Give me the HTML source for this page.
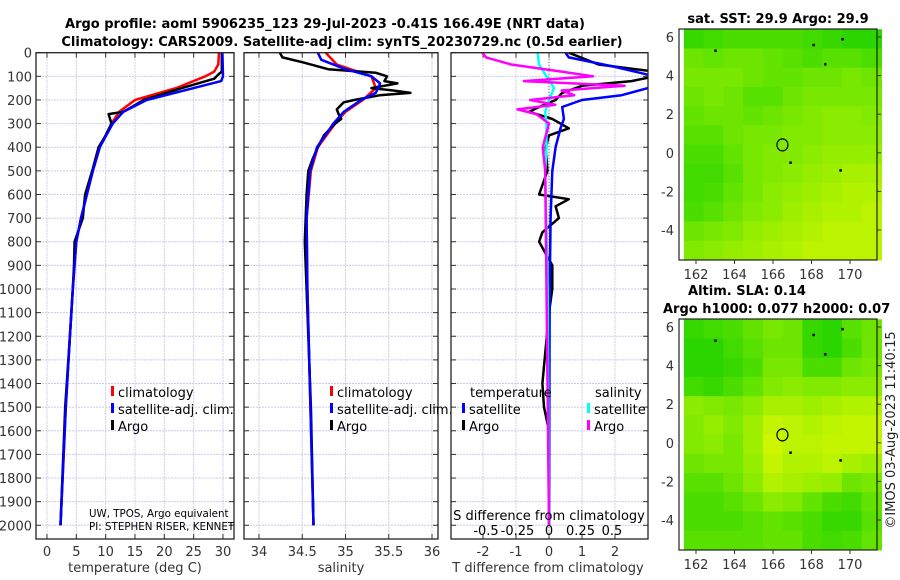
<!DOCTYPE html>
<html><head><meta charset="utf-8"><style>
body{margin:0;background:#fff}
svg{display:block;font-family:"DejaVu Sans","Liberation Sans",sans-serif}
.tk{font-size:13px;fill:#333}
.ti{font-size:13px;font-weight:bold;fill:#000}
.lg{font-size:13px;fill:#000}
</style></head><body>
<svg id="c" width="900" height="580" xmlns="http://www.w3.org/2000/svg"></svg>
<script>
// ---------- data ----------
const depthTicks=[0,100,200,300,400,500,600,700,800,900,1000,1100,1200,1300,1400,1500,1600,1700,1800,1900,2000];
const tempTicks=[0,5,10,15,20,25,30];
const salTicks=[34,34.5,35,35.5,36];
const tdTicks=[-2,-1,0,1,2];
const sdTicks=[-0.5,-0.25,0,0.25,0.5];
const tempClimD=[0,50,80,100,150,200,250,300,400,500,600,700,800,1000,1200,1500,2000];
const tempClim=[29.3,29.2,28.5,27,22,15,12.3,11,9,7.8,6.8,5.8,5,4.4,3.9,3.2,2.3];
const tempSatD=[0,100,120,150,200,250,300,400,500,600,700,800,1000,1200,1500,2000];
const tempSat=[29.9,30.0,29.7,25,17,13,11.2,9,7.8,6.8,5.8,5,4.4,3.9,3.2,2.3];
const tempArgoD=[0,80,90,110,150,200,250,260,300,350,400,500,600,700,800,900,1000,1200,1500,2000];
const tempArgo=[29.8,29.8,29.3,28.5,23,16.5,13,10.5,11,10,8.8,7.7,6.5,6.1,4.7,4.6,4.4,3.9,3.1,2.3];
const salClimD=[0,50,100,150,200,250,300,400,500,700,1000,2000];
const salClim=[34.77,34.9,35.3,35.35,35.2,35.0,34.88,34.68,34.6,34.55,34.56,34.63];
const salSatD=[0,30,70,100,130,170,200,250,300,400,500,700,1000,2000];
const salSat=[34.68,34.72,35.0,35.3,35.4,35.35,35.18,34.98,34.86,34.67,34.59,34.55,34.56,34.63];
const salArgoD=[0,20,40,70,85,100,120,130,150,160,170,180,200,210,240,260,280,300,350,400,450,500,600,800,1000,1500,2000];
const salArgo=[34.24,34.27,34.5,34.8,35.35,35.48,35.45,35.6,35.3,35.55,35.75,35.4,35.1,34.98,34.9,34.92,34.95,34.88,34.75,34.68,34.62,34.57,34.55,34.53,34.55,34.6,34.63];
const tdSatD=[0,20,60,100,150,180,200,230,280,320,400,500,700,1000,2000];
const tdSat=[0.5,0.6,2.0,3.2,3.0,2.2,1.0,0.4,0.45,0.35,0.2,0.1,0.05,0.02,0];
const tdArgoD=[0,50,80,100,120,140,170,200,230,250,280,320,350,400,500,600,620,650,700,760,800,850,900,1000,1100,1400,1500,1600,2000];
const tdArgo=[0.6,1.5,3.2,3.2,2.5,1.0,0.4,0.2,-0.3,-0.6,0.1,0.6,0,-0.1,-0.05,-0.3,0.6,0.2,0.3,-0.2,-0.3,-0.1,0.1,0.1,0,-0.2,-0.15,0,0];
const sdSatD=[0,50,100,150,200,250,300,400,500,1000,2000];
const sdSat=[-0.09,-0.08,-0.02,0.04,0.0,-0.03,-0.02,-0.02,-0.03,-0.01,0];
const sdArgoD=[0,20,50,80,100,120,140,160,180,200,220,240,260,300,400,500,1000,2000];
const sdArgo=[-0.53,-0.5,-0.3,0.1,0.35,-0.2,0.6,0.1,0.2,-0.15,0.05,-0.25,-0.1,0,-0.05,-0.03,-0.02,0];
const lonTicks=[162,164,166,168,170];
const latTicks=[6,4,2,0,-2,-4];
const sstGrid=[
[0.2,0.25,0.3,0.3,0.3,0.3,0.25,0.2,0.15,0.15],
[0.45,0.4,0.45,0.45,0.4,0.35,0.3,0.35,0.35,0.3],
[0.5,0.5,0.5,0.45,0.4,0.4,0.45,0.45,0.5,0.45],
[0.45,0.5,0.45,0.35,0.35,0.45,0.5,0.5,0.5,0.5],
[0.4,0.45,0.45,0.4,0.45,0.5,0.55,0.6,0.6,0.55],
[0.35,0.35,0.45,0.5,0.5,0.55,0.55,0.6,0.6,0.6],
[0.3,0.3,0.4,0.5,0.55,0.55,0.6,0.65,0.65,0.65],
[0.25,0.25,0.35,0.5,0.55,0.6,0.65,0.7,0.75,0.75],
[0.25,0.3,0.4,0.5,0.6,0.65,0.7,0.75,0.8,0.8],
[0.3,0.35,0.45,0.55,0.6,0.7,0.75,0.8,0.8,0.85],
[0.45,0.5,0.55,0.65,0.7,0.75,0.8,0.85,0.85,0.85],
[0.55,0.6,0.65,0.7,0.75,0.8,0.85,0.85,0.85,0.85]];
const slaGrid=[
[0.2,0.25,0.3,0.4,0.5,0.45,0.2,0.15,0.35,0.45],
[0.15,0.15,0.25,0.35,0.45,0.45,0.2,0.15,0.3,0.45],
[0.15,0.15,0.2,0.3,0.5,0.5,0.3,0.3,0.45,0.5],
[0.25,0.2,0.3,0.4,0.55,0.6,0.55,0.55,0.6,0.6],
[0.6,0.55,0.5,0.6,0.75,0.75,0.7,0.75,0.8,0.8],
[0.55,0.65,0.55,0.7,0.9,0.85,0.8,0.85,0.9,0.9],
[0.55,0.6,0.5,0.7,0.95,0.85,0.85,0.9,0.9,0.9],
[0.45,0.5,0.5,0.65,0.9,0.8,0.8,0.85,0.75,0.7],
[0.35,0.35,0.45,0.6,0.8,0.75,0.7,0.65,0.45,0.5],
[0.3,0.3,0.35,0.45,0.6,0.55,0.4,0.3,0.25,0.4],
[0.3,0.3,0.3,0.35,0.4,0.35,0.3,0.2,0.2,0.35],
[0.35,0.35,0.35,0.35,0.4,0.4,0.3,0.25,0.3,0.4]];
const floatLon=166.49, floatLat=0.41;

// ---------- helpers ----------
const NS="http://www.w3.org/2000/svg", svg=document.getElementById('c');
function el(t,a,p){const e=document.createElementNS(NS,t);for(const k in a)e.setAttribute(k,a[k]);(p||svg).appendChild(e);return e;}
function txt(x,y,s,cls,anchor,p){const e=el('text',{x:x,y:y,class:cls,'text-anchor':anchor||'start'},p);e.textContent=s;return e;}
const yTop=52.7, yPer=0.2363, yBot=539;
const yD=d=>yTop+d*yPer;
function lin(v0,p0,v1,p1){return v=>p0+(v-v0)*(p1-p0)/(v1-v0);}
const xT=lin(0,47,30,223), xS=lin(34,259,36,432), xTD=lin(0,549,1,582), xSD=lin(0,549,0.25,580.5);

function panel(name,x0,x1,xf,ticks,fmt,showDepth){
  const g=el('g',{});
  
  
  ticks.forEach(t=>{el('line',{x1:xf(t),x2:xf(t),y1:yTop,y2:yBot,stroke:'#c8cce8','stroke-width':1,'stroke-dasharray':'2,1'},g);});
  depthTicks.forEach(d=>{el('line',{x1:x0,x2:x1,y1:yD(d),y2:yD(d),stroke:'#c8cce8','stroke-width':1,'stroke-dasharray':'2,1'},g);
    el('line',{x1:x0,x2:x0+5,y1:yD(d),y2:yD(d),stroke:'#333'},g);el('line',{x1:x1-5,x2:x1,y1:yD(d),y2:yD(d),stroke:'#333'},g);
    if(showDepth){const t=txt(x0-4,yD(d)+5,String(d),'tk','end',g);}});
  ticks.forEach(t=>{el('line',{x1:xf(t),x2:xf(t),y1:yBot,y2:yBot-5,stroke:'#333'},g);el('line',{x1:xf(t),x2:xf(t),y1:yTop,y2:yTop+5,stroke:'#333'},g);
    const l=txt(xf(t),556,fmt(t),'tk','middle',g);});
  return g;
}
function frame(x0,x1){el('rect',{x:x0,y:yTop,width:x1-x0,height:yBot-yTop,fill:'none',stroke:'#222','stroke-width':1.3});}
function line(name,ds,vs,xf,col,w,clip){
  const pts=ds.map((d,i)=>xf(vs[i]).toFixed(1)+','+yD(d).toFixed(1)).join(' ');
  const p=el('polyline',{points:pts,fill:'none',stroke:col,'stroke-width':w,'stroke-linejoin':'round','clip-path':'url(#'+clip+')'});
  
  
}
const defs=el('defs',{});
[['cp1',36,234],['cp2',244,438],['cp3',451,648]].forEach(c=>{const cp=el('clipPath',{id:c[0]},defs);el('rect',{x:c[1],y:yTop,width:c[2]-c[1],height:yBot-yTop},cp);});

// titles
let t=txt(325,28,'Argo profile: aoml 5906235_123 29-Jul-2023 -0.41S 166.49E (NRT data)','ti','middle');

t=txt(342,46,'Climatology: CARS2009. Satellite-adj clim: synTS_20230729.nc (0.5d earlier)','ti','middle');


// panel 1
panel('temperature-panel',36,234,xT,tempTicks,String,true);
line('temp-climatology-line',tempClimD,tempClim,xT,'#f00',2.5,'cp1');
line('temp-argo-line',tempArgoD,tempArgo,xT,'#000',2.5,'cp1');
line('temp-satellite-line',tempSatD,tempSat,xT,'#00f',2.5,'cp1');
frame(36,234);
t=txt(135,572,'temperature (deg C)','tk','middle');
function legend(x,y,col,label,name){el('rect',{x:x,y:y-11,width:3,height:10,fill:col});const l=txt(x+7,y,label,'lg');}
legend(111,397,'#f00','climatology','legend-climatology');
legend(111,414,'#00f','satellite-adj. clim.','legend-satellite');
legend(111,431,'#000','Argo','legend-argo');
const cpn=el('g',{'clip-path':'url(#cp1)'});
t=txt(89,517,'UW, TPOS, Argo equivalent','lg',null,cpn);t.style.fontSize='10.3px';
t=txt(89,530,'PI: STEPHEN RISER, KENNETH','lg',null,cpn);t.style.fontSize='10.3px';

// panel 2
panel('salinity-panel',244,438,xS,salTicks,String,false);
line('sal-climatology-line',salClimD,salClim,xS,'#f00',2.5,'cp2');
line('sal-argo-line',salArgoD,salArgo,xS,'#000',2.5,'cp2');
line('sal-satellite-line',salSatD,salSat,xS,'#00f',2.5,'cp2');
frame(244,438);
t=txt(341,572,'salinity','tk','middle');
legend(330,397,'#f00','climatology','legend-climatology-2');
legend(330,414,'#00f','satellite-adj. clim.','legend-satellite-2');
legend(330,431,'#000','Argo','legend-argo-2');

// panel 3
panel('difference-panel',451,648,xTD,tdTicks,String,false);
el('line',{x1:549,x2:549,y1:yTop,y2:yBot,stroke:'#555','stroke-dasharray':'1,2'});
line('tdiff-argo-line',tdArgoD,tdArgo,xTD,'#000',2.5,'cp3');
line('tdiff-satellite-line',tdSatD,tdSat,xTD,'#00f',2.5,'cp3');
line('sdiff-satellite-line',sdSatD,sdSat,xSD,'#0ff',2.5,'cp3');
line('sdiff-argo-line',sdArgoD,sdArgo,xSD,'#f0f',2.5,'cp3');
frame(451,648);
t=txt(548,572,'T difference from climatology','tk','middle');
t=txt(549,520,'S difference from climatology','lg','middle');
sdTicks.forEach(v=>{const l=txt(xSD(v),535,String(v),'lg','middle');});
t=txt(470,397,'temperature','lg');
t=txt(595,397,'salinity','lg');
legend(462,414,'#00f','satellite','legend-t-satellite');
legend(462,431,'#000','Argo','legend-t-argo');
legend(587,414,'#0ff','satellite','legend-s-satellite');
legend(587,431,'#f0f','Argo','legend-s-argo');

// maps
function colr(v){const a=[10,205,0],b=[120,232,0],c=[215,248,0];let p,q,f;
  if(v<0.5){p=a;q=b;f=v/0.5;}else{p=b;q=c;f=(v-0.5)/0.5;}
  return 'rgb('+p.map((x,i)=>Math.round(x+(q[i]-x)*f)).join(',')+')';}
function map(name,top,grid){
  const x0=679,x1=877,y1=top+231;
  const lx=lin(162,696,170,850), ly=lin(6,top+8,-4,top+201);
  const g=el('g',{});
  const rows=grid.length, cols=grid[0].length;
  const lonMin=161.37,lonMax=171.63,latMax=6.4,latMin=-5.55;
  const dlon=(lonMax-lonMin)/cols, dlat=(latMax-latMin)/rows;
  grid.forEach((r,i)=>r.forEach((v,j)=>{
    const xa=lx(lonMin+j*dlon), xb=lx(lonMin+(j+1)*dlon), ya=ly(latMax-i*dlat), yb=ly(latMax-(i+1)*dlat);
    const c=el('rect',{x:xa,y:ya,width:xb-xa+0.6,height:yb-ya+0.6,fill:colr(v)},g);
    
    
  }));
  el('rect',{x:x0,y:top,width:x1-x0,height:y1-top,fill:'none',stroke:'#222','stroke-width':1.2});
  lonTicks.forEach(l=>{el('line',{x1:lx(l),x2:lx(l),y1:y1,y2:y1+4,stroke:'#333'});const k=txt(lx(l),y1+19,String(l),'tk','middle');});
  latTicks.forEach(l=>{el('line',{x1:x1,x2:x1+4,y1:ly(l),y2:ly(l),stroke:'#333'});const k=txt(674,ly(l)+5,String(l),'tk','end');});
  const m=el('ellipse',{cx:lx(floatLon),cy:ly(floatLat),rx:5.5,ry:6,fill:'none',stroke:'#000','stroke-width':1.2});
  
  [[163,5.3],[166.9,-0.5],[168.7,4.6],[168.1,5.6],[169.5,-0.9],[169.6,5.9]].forEach(p=>el('rect',{x:lx(p[0])-1,y:ly(p[1])-1,width:2.5,height:2.5,fill:'#000'}));
}
map('sst-map',29,sstGrid);
map('sla-map',319,slaGrid);
t=txt(778,23,'sat. SST: 29.9 Argo: 29.9','ti','middle');
t=txt(747,295,'Altim. SLA: 0.14','ti','middle');
t=txt(663,313,'Argo h1000: 0.077 h2000: 0.07','ti');
t=txt(0,0,'©IMOS 03-Aug-2023 11:40:15','tk','middle');t.setAttribute('transform','translate(895,430) rotate(-90)');t.style.fill='#222';

</script>
</body></html>
